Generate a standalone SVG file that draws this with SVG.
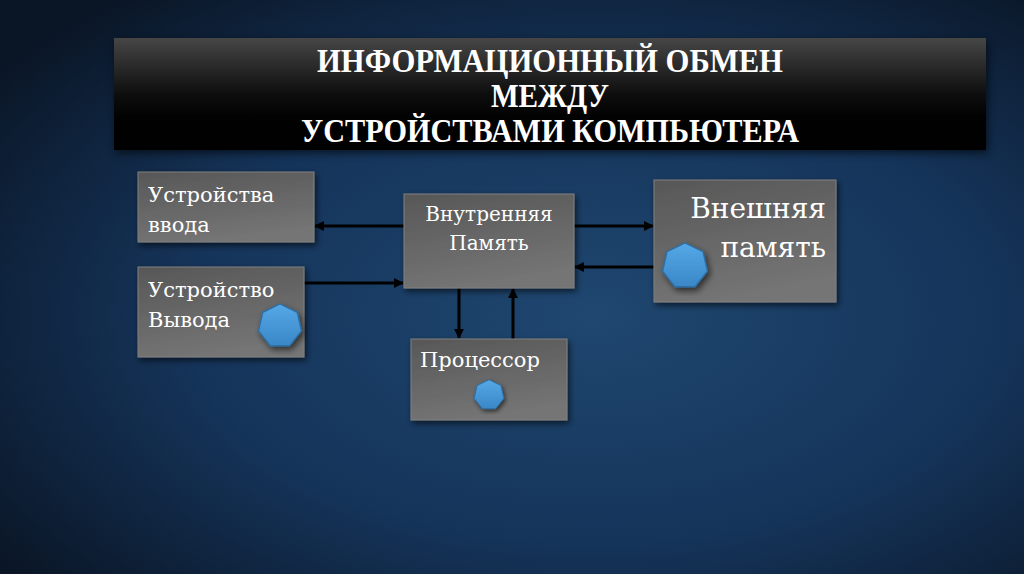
<svg xmlns="http://www.w3.org/2000/svg" width="1024" height="574" viewBox="0 0 1024 574">
<defs>
  <radialGradient id="bg" cx="0.58" cy="0.55" r="0.72">
    <stop offset="0" stop-color="#1f4770"/>
    <stop offset="0.55" stop-color="#15345a"/>
    <stop offset="1" stop-color="#0a1626"/>
  </radialGradient>
  <linearGradient id="title" gradientUnits="userSpaceOnUse" x1="0" y1="38" x2="0" y2="150">
    <stop offset="0" stop-color="#464646"/>
    <stop offset="0.25" stop-color="#2a2a2a"/>
    <stop offset="0.5" stop-color="#0e0e0e"/>
    <stop offset="0.7" stop-color="#020202"/>
    <stop offset="1" stop-color="#000000"/>
  </linearGradient>
  <linearGradient id="box" x1="0" y1="0" x2="0.3" y2="1">
    <stop offset="0" stop-color="#575757"/>
    <stop offset="1" stop-color="#747474"/>
  </linearGradient>
  <linearGradient id="hep" x1="0" y1="0" x2="0" y2="1">
    <stop offset="0" stop-color="#56a8e6"/>
    <stop offset="1" stop-color="#3a87c8"/>
  </linearGradient>
  <filter id="sh" x="-10%" y="-10%" width="125%" height="130%">
    <feDropShadow dx="2" dy="3" stdDeviation="3" flood-color="#000" flood-opacity="0.6"/>
  </filter>
  <filter id="blur" x="-5%" y="-20%" width="110%" height="140%">
    <feGaussianBlur stdDeviation="4"/>
  </filter>
  <polygon id="hept" points="0,-20 15.64,-12.47 19.5,4.45 8.68,18.02 -8.68,18.02 -19.5,4.45 -15.64,-12.47"/>
  <marker id="ah" viewBox="0 0 10 10" refX="9" refY="5" markerWidth="3.3" markerHeight="3.3" orient="auto" markerUnits="strokeWidth">
    <path d="M0,0 L10,5 L0,10 z" fill="#000"/>
  </marker>
  <style>
    .box { fill: url(#box); stroke: #808080; stroke-width: 1; filter: url(#sh); }
    .t { font-family: "DejaVu Serif", "Liberation Serif", serif; fill: #ffffff; }
    .tt { font-family: "Liberation Serif", "DejaVu Serif", serif; font-weight: bold; fill: #ffffff; font-size: 33px; text-anchor: middle; }
    .hx { fill: url(#hep); stroke: #2b6fa6; stroke-width: 1.2; filter: url(#sh); }
    .c { stroke: #000; stroke-width: 3; fill: none; marker-end: url(#ah); }
  </style>
</defs>
<rect width="1024" height="574" fill="url(#bg)"/>

<g id="title-bar">
  <rect x="116" y="41" width="872" height="112" fill="#000" opacity="0.6" filter="url(#blur)"/>
  <rect x="114" y="38" width="872" height="112" fill="url(#title)"/>
  <text class="tt" x="550" y="72" textLength="466" lengthAdjust="spacingAndGlyphs">ИНФОРМАЦИОННЫЙ ОБМЕН</text>
  <text class="tt" x="550" y="107" textLength="118" lengthAdjust="spacingAndGlyphs">МЕЖДУ</text>
  <text class="tt" x="550" y="142" textLength="498" lengthAdjust="spacingAndGlyphs">УСТРОЙСТВАМИ КОМПЬЮТЕРА</text>
</g>

<g id="connectors">
  <line class="c" x1="404" y1="226" x2="315" y2="226"/>
  <line class="c" x1="304" y1="283" x2="403" y2="283"/>
  <line class="c" x1="574" y1="226" x2="653" y2="226"/>
  <line class="c" x1="654" y1="267" x2="575" y2="267"/>
  <line class="c" x1="459" y1="288" x2="459" y2="338"/>
  <line class="c" x1="513" y1="339" x2="513" y2="289"/>
</g>

<g id="input-devices">
  <rect class="box" x="138" y="172" width="176" height="70"/>
  <text class="t" x="148" y="202" font-size="21">Устройства</text>
  <text class="t" x="148" y="232" font-size="21">ввода</text>
</g>

<g id="output-device">
  <rect class="box" x="138" y="267" width="166" height="90"/>
  <text class="t" x="148" y="297" font-size="21">Устройство</text>
  <text class="t" x="148" y="327" font-size="21">Вывода</text>
  <use href="#hept" class="hx" transform="translate(280,326) scale(1.1)"/>
</g>

<g id="internal-memory">
  <rect class="box" x="404" y="194" width="170" height="94"/>
  <text class="t" x="489" y="221" font-size="20" text-anchor="middle">Внутренняя</text>
  <text class="t" x="489" y="250" font-size="20" text-anchor="middle">Память</text>
</g>

<g id="external-memory">
  <rect class="box" x="654" y="180" width="182" height="122"/>
  <text class="t" x="826" y="218" font-size="28" text-anchor="end">Внешняя</text>
  <text class="t" x="826" y="257" font-size="28" text-anchor="end">память</text>
  <use href="#hept" class="hx" transform="translate(685,266) scale(1.15)"/>
</g>

<g id="processor">
  <rect class="box" x="411" y="339" width="156" height="81"/>
  <text class="t" x="420" y="367" font-size="21">Процессор</text>
  <use href="#hept" class="hx" transform="translate(489,395) scale(0.76)"/>
</g>
</svg>
